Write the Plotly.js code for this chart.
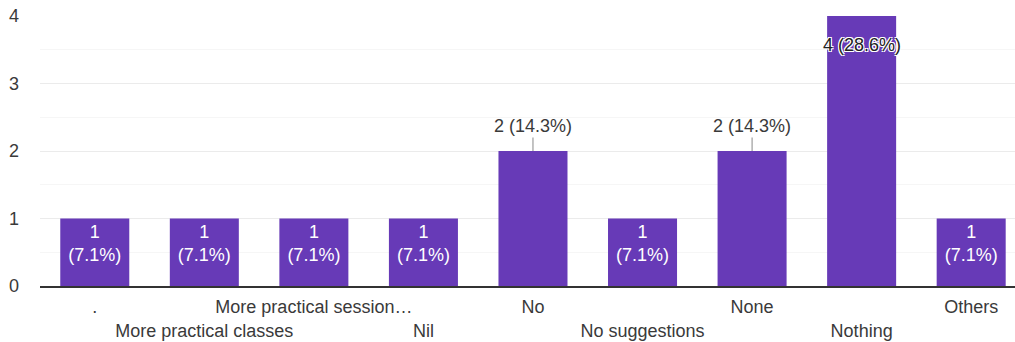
<!DOCTYPE html>
<html>
<head>
<meta charset="utf-8">
<script src="https://cdn.plot.ly/plotly-3.0.1.min.js"></script>
<style>html,body{margin:0;padding:0;background:#fff;}#chart{width:1015px;height:342px;}</style>
</head>
<body>
<div id="chart"></div>
<script>
const categories = [".", "More practical classes", "More practical session…", "Nil", "No", "No suggestions", "None", "Nothing", "Others"];
const counts = [1, 1, 1, 1, 2, 1, 2, 4, 1];
const percents = [7.1, 7.1, 7.1, 7.1, 14.3, 7.1, 14.3, 28.6, 7.1];
const yTicks = [0, 1, 2, 3, 4];

const FONT = '"Liberation Sans", Arial, sans-serif';
const TEXT = '#3a3a3a';
const yMax = 4;

const barText = counts.map((c, i) => c === 1 ? c + '<br>(' + percents[i].toFixed(1) + '%)' : '');
const tickText = categories.map((c, i) => i % 2 === 1 ? '<br>' + c : c);

const annotations = [];
counts.forEach((c, i) => {
  if (c > 1) {
    const top = c >= yMax;
    annotations.push({
      x: categories[i], y: c, xref: 'x', yref: 'y',
      text: c + ' (' + percents[i].toFixed(1) + '%)',
      showarrow: true, arrowhead: 0, arrowwidth: 1, arrowcolor: '#888',
      ax: 0, ay: top ? 29 : -25,
      font: {family: FONT, size: 18, color: top ? '#222' : TEXT,
             shadow: top ? '-1px -1px 0 #fff, 1px -1px 0 #fff, -1px 1px 0 #fff, 1px 1px 0 #fff' : 'none'}
    });
  }
});

const trace = {
  type: 'bar',
  x: categories,
  y: counts,
  marker: {color: '#673ab7'},
  text: barText,
  textposition: 'inside',
  insidetextanchor: 'end',
  textangle: 0,
  textfont: {family: FONT, size: 18, color: '#ffffff'},
  hoverinfo: 'none',
  cliponaxis: false
};

const layout = {
  width: 1015, height: 342,
  margin: {l: 40, r: 0, t: 16, b: 56},
  paper_bgcolor: '#fff', plot_bgcolor: '#fff',
  bargap: 0.37,
  showlegend: false,
  font: {family: FONT, size: 18, color: TEXT},
  xaxis: {
    type: 'category',
    range: [-0.5, 8.4],
    tickvals: categories,
    ticktext: tickText,
    tickangle: 0,
    ticks: '',
    showgrid: false,
    showline: true, linecolor: '#333', linewidth: 1.5,
    zeroline: false,
    tickfont: {family: FONT, size: 18, color: TEXT},
    ticklabelstandoff: 4,
    fixedrange: true
  },
  yaxis: {
    range: [0, 4],
    tickvals: yTicks,
    ticks: '',
    showgrid: true, gridcolor: '#ebebeb', gridwidth: 1,
    minor: {dtick: 0.5, showgrid: true, gridcolor: '#f6f6f6', gridwidth: 1},
    zeroline: false,
    showline: false,
    tickfont: {family: FONT, size: 18, color: TEXT},
    ticklabelstandoff: 20,
    fixedrange: true
  },
  annotations: annotations
};

Plotly.newPlot('chart', [trace], layout, {displayModeBar: false, staticPlot: true});
</script>
</body>
</html>
